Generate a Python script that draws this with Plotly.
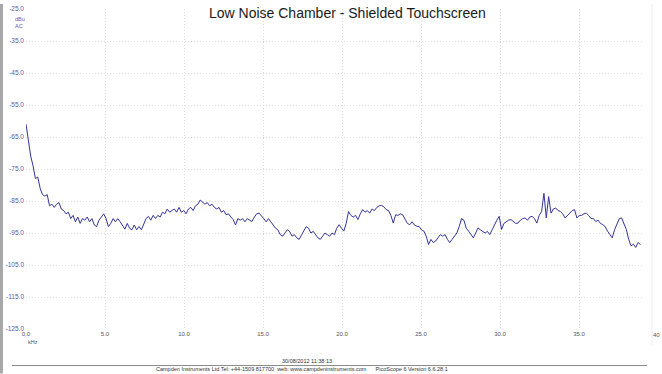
import plotly.graph_objects as go

# ---- data ----
freq_step_khz = 0.149
level_dbu = [
    -61, -66, -71, -74, -78, -77.5, -81, -83, -83.5, -83,
    -86.5, -86, -87, -86, -85.5, -87.5, -88, -89, -88.5, -90.5,
    -89.5, -91.5, -90, -92, -90.5, -91, -90, -91.5, -90.5, -92.5,
    -93, -91, -90, -89, -90.5, -93, -92, -90.5, -91.5, -90.5,
    -91.5, -92.5, -93.8, -92, -93.5, -94, -92.5, -94, -93, -94,
    -92, -90.5, -89.8, -91, -89.5, -90.5, -89.5, -90, -88.5, -89,
    -87.5, -88.5, -88, -87.5, -88.5, -87, -88.5, -88, -89, -87.5,
    -87, -88, -86.5, -86, -84.7, -85.5, -86, -85.5, -86.5, -86,
    -87, -87.5, -87, -88.5, -88, -89.3, -89, -90, -90.8, -92.5,
    -90.5, -91, -90.5, -91.5, -90.5, -91, -91.4, -90, -89, -88.8,
    -89.5, -90.5, -91.5, -90.5, -91.5, -92.4, -93.5, -94, -95.5, -96,
    -95, -94, -94.5, -96, -95.5, -96.5, -97, -95.5, -94, -93,
    -93.5, -95, -94.5, -95.5, -96.5, -97, -96, -95, -95.5, -96,
    -95, -95.5, -93.5, -92.4, -93.5, -94.4, -92, -88.3, -89.5, -90,
    -89.5, -90.8, -89, -87.7, -88.5, -88, -88.8, -87.5, -88, -87,
    -86.5, -86.4, -86.8, -87.7, -88, -89.5, -91.9, -89.3, -89.5, -89,
    -89.3, -90.5, -92, -92.4, -91.5, -92.5, -92.9, -93, -94, -94.4,
    -96, -98.6, -97, -98, -97.5, -96.5, -95.5, -96, -95.5, -97,
    -98, -97, -96, -95, -93, -90.5, -91, -93.5, -94.4, -95.5,
    -96.5, -95, -93.4, -94, -94.5, -95, -94.5, -95.5, -94, -92.4,
    -91, -89.8, -93.9, -92, -91.5, -91, -90.8, -91.5, -92, -91.9,
    -91, -90.5, -90.3, -91, -90, -89.8, -90.5, -91.9, -89.5, -88.3,
    -82.6, -90.3, -83.6, -88.8, -87.5, -87.2, -88, -88.3, -89, -90.3,
    -89.5, -89, -88, -87.7, -90.3, -89.5, -89.5, -89, -88.8, -89.5,
    -90.5, -90.5, -91.4, -91, -92, -92.4, -93, -94.4, -95.5, -96.5,
    -94, -92, -90.5, -90.3, -92, -93.9, -97, -99, -98.5, -99.5,
    -98, -98.6,
]
freq_khz = [i * freq_step_khz for i in range(len(level_dbu))]

x_tick_vals = [0, 5, 10, 15, 20, 25, 30, 35]
x_tick_text = ["0.0", "5.0", "10.0", "15.0", "20.0", "25.0", "30.0", "35.0"]
y_tick_vals = [-25, -35, -45, -55, -65, -75, -85, -95, -105, -115, -125]
y_tick_text = ["-25.0", "-35.0", "-45.0", "-55.0", "-65.0", "-75.0", "-85.0",
               "-95.0", "-105.0", "-115.0", "-125.0"]

title_text = "Low Noise Chamber - Shielded Touchscreen"
date_text = "30/08/2012 11:38:13"
footer_text = ("Campden Instruments Ltd Tel: +44-1509 817700  web: www.campdeninstruments.com"
               "      PicoScope 6 Version 6.6.28.1")

FONT = "Liberation Sans, Arial, sans-serif"
X_MAX = 39.05

fig = go.Figure()
fig.add_trace(go.Scatter(
    x=freq_khz, y=level_dbu, mode="lines",
    line=dict(color="#34349c", width=1),
    showlegend=False, hoverinfo="skip",
))

grid = dict(showgrid=True, gridcolor="#dcdcdc", gridwidth=1, griddash="1px,2px",
            zeroline=False, showline=False, ticks="")

fig.update_xaxes(range=[0, X_MAX], tickvals=x_tick_vals, ticktext=x_tick_text,
                 tickfont=dict(family=FONT, size=6, color="#555555"), **grid)
fig.update_yaxes(range=[-125, -25], tickvals=y_tick_vals, ticktext=y_tick_text,
                 tickfont=dict(family=FONT, size=6.5, color="#5a5aa8"),
                 ticklabelstandoff=1, **grid)

W, H = 662, 374
L, R, T, B = 26, 19, 5, 45
pw, ph = W - L - R, H - T - B


def px(xp):
    return (xp - L) / pw


def py(yp):
    return (H - B - yp) / ph


annotations = [
    dict(text=title_text, x=px(347), y=py(9), xanchor="center", yanchor="middle",
         font=dict(family=FONT, size=14, color="#1a1a1a")),
    dict(text="dBu<br>AC", x=px(13), y=py(10.5), xanchor="left", yanchor="top", align="left",
         font=dict(family=FONT, size=5.5, color="#5a5aa8")),
    dict(text="kHz", x=px(33), y=py(342), xanchor="center", yanchor="middle",
         font=dict(family=FONT, size=5.5, color="#555555")),
    dict(text="40", x=px(656), y=py(335), xanchor="center", yanchor="middle",
         font=dict(family=FONT, size=6, color="#555555")),
    dict(text=date_text, x=px(307), y=py(361), xanchor="center", yanchor="middle",
         font=dict(family=FONT, size=5.5, color="#333333")),
    dict(text=footer_text, x=px(302), y=py(370), xanchor="center", yanchor="middle",
         font=dict(family=FONT, size=5.5, color="#333333")),
]
for a in annotations:
    a.update(xref="paper", yref="paper", showarrow=False)

shapes = [
    dict(type="rect", xref="paper", yref="paper", x0=px(0), x1=px(3), y0=py(374), y1=py(0),
         fillcolor="#a8a8a8", line=dict(width=0), layer="above"),
    dict(type="line", xref="paper", yref="paper", x0=px(12), x1=px(647), y0=py(366), y1=py(366),
         line=dict(color="#8a8a8a", width=1)),
    dict(type="line", xref="paper", yref="paper", x0=px(652), x1=px(652), y0=py(0), y1=py(345),
         line=dict(color="#ececec", width=1)),
]

fig.update_layout(
    width=W, height=H,
    margin=dict(l=L, r=R, t=T, b=B, pad=0),
    paper_bgcolor="white", plot_bgcolor="white",
    annotations=annotations, shapes=shapes,
    showlegend=False,
)

fig.write_html("out.html", config={"displayModeBar": False},
               post_script="document.body.style.margin='0';document.body.style.overflow='hidden';")
